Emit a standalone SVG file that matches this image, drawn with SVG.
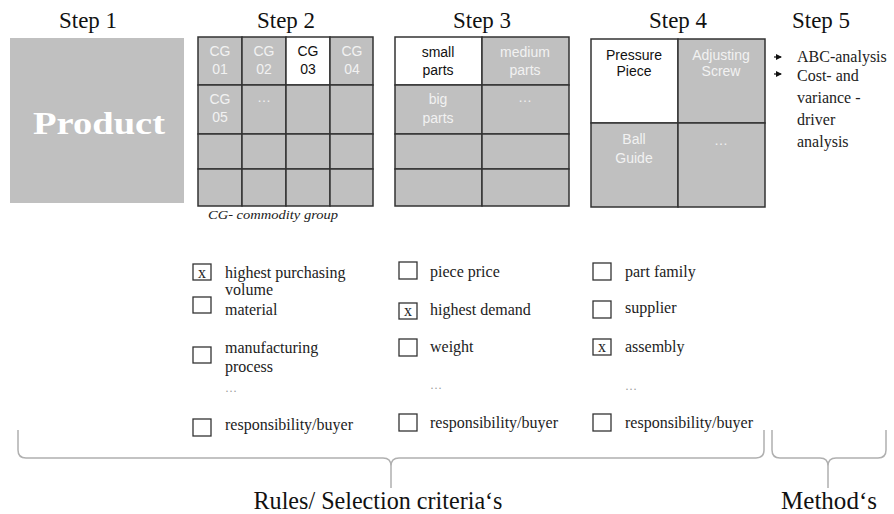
<svg xmlns="http://www.w3.org/2000/svg" width="894" height="514" viewBox="0 0 894 514">
<style>
.title{font-size:24px;fill:#111;text-anchor:middle}
.cell{fill:#c0c0c0;stroke:#333;stroke-width:1.5}
.wcell{fill:#fff;stroke:#333;stroke-width:1.5}
.ct{font-size:14px;fill:#f2f2f2;text-anchor:middle}
.ctd{font-size:14px;fill:#111;text-anchor:middle}
.lbl{font-size:16px;fill:#222}
.box{fill:#fff;stroke:#333;stroke-width:1.3}
.brace{fill:none;stroke:#b0b0b0;stroke-width:1.5}
.big{font-size:26px;fill:#111;text-anchor:middle}
.dots{font-size:12px;fill:#999}
</style>
<defs>
<marker id="ah" markerWidth="6" markerHeight="6" refX="5" refY="3" orient="auto" markerUnits="userSpaceOnUse">
<path d="M0,0 L6,3 L0,6 z" fill="#111"/>
</marker>
</defs>

<g id="step1" font-family="Liberation Serif, serif">
<text class="title" x="88" y="28" textLength="58" lengthAdjust="spacingAndGlyphs">Step 1</text>
<rect x="10" y="38" width="174" height="165" fill="#c0c0c0"/>
<text x="99" y="134" font-weight="bold" font-size="32" fill="#fff" text-anchor="middle" textLength="132" lengthAdjust="spacingAndGlyphs">Product</text>
</g>

<g id="step2" font-family="Liberation Sans, Arial, sans-serif">
<text class="title" x="286" y="28" font-family="Liberation Serif, serif" textLength="58" lengthAdjust="spacingAndGlyphs">Step 2</text>
<rect class="cell" x="198" y="37" width="44" height="48"/>
<rect class="cell" x="242" y="37" width="44" height="48"/>
<rect class="wcell" x="286" y="37" width="44" height="48"/>
<rect class="cell" x="330" y="37" width="43" height="48"/>
<rect class="cell" x="198" y="85" width="44" height="49"/>
<rect class="cell" x="242" y="85" width="44" height="49"/>
<rect class="cell" x="286" y="85" width="44" height="49"/>
<rect class="cell" x="330" y="85" width="43" height="49"/>
<rect class="cell" x="198" y="134" width="44" height="35"/>
<rect class="cell" x="242" y="134" width="44" height="35"/>
<rect class="cell" x="286" y="134" width="44" height="35"/>
<rect class="cell" x="330" y="134" width="43" height="35"/>
<rect class="cell" x="198" y="169" width="44" height="37"/>
<rect class="cell" x="242" y="169" width="44" height="37"/>
<rect class="cell" x="286" y="169" width="44" height="37"/>
<rect class="cell" x="330" y="169" width="43" height="37"/>
<text class="ct" x="220" y="56">CG</text><text class="ct" x="220" y="74">01</text>
<text class="ct" x="264" y="56">CG</text><text class="ct" x="264" y="74">02</text>
<text class="ctd" x="308" y="56">CG</text><text class="ctd" x="308" y="74">03</text>
<text class="ct" x="352" y="56">CG</text><text class="ct" x="352" y="74">04</text>
<text class="ct" x="220" y="104">CG</text><text class="ct" x="220" y="122">05</text>
<text class="ct" x="264" y="102">…</text>
<text x="208" y="219" font-family="Liberation Serif, serif" font-style="italic" font-size="12" fill="#222" textLength="130" lengthAdjust="spacingAndGlyphs">CG- commodity group</text>
</g>

<g id="step3" font-family="Liberation Sans, Arial, sans-serif">
<text class="title" x="482" y="28" font-family="Liberation Serif, serif" textLength="58" lengthAdjust="spacingAndGlyphs">Step 3</text>
<rect class="wcell" x="395" y="37" width="87" height="48"/>
<rect class="cell" x="482" y="37" width="87" height="48"/>
<rect class="cell" x="395" y="85" width="87" height="49"/>
<rect class="cell" x="482" y="85" width="87" height="49"/>
<rect class="cell" x="395" y="134" width="87" height="35"/>
<rect class="cell" x="482" y="134" width="87" height="35"/>
<rect class="cell" x="395" y="169" width="87" height="37"/>
<rect class="cell" x="482" y="169" width="87" height="37"/>
<text class="ctd" x="438" y="57">small</text><text class="ctd" x="438" y="75" font-size="12">parts</text>
<text class="ct" x="525" y="57" font-size="15">medium</text><text class="ct" x="525" y="75" font-size="12">parts</text>
<text class="ct" x="438" y="104" font-size="15">big</text><text class="ct" x="438" y="123" font-size="15">parts</text>
<text class="ct" x="525" y="102">…</text>
</g>

<g id="step4" font-family="Liberation Sans, Arial, sans-serif">
<text class="title" x="678" y="28" font-family="Liberation Serif, serif" textLength="58" lengthAdjust="spacingAndGlyphs">Step 4</text>
<rect class="wcell" x="591" y="39" width="87" height="84"/>
<rect class="cell" x="678" y="39" width="87" height="84"/>
<rect class="cell" x="591" y="123" width="87" height="84"/>
<rect class="cell" x="678" y="123" width="87" height="84"/>
<text class="ctd" x="634" y="60" font-size="15">Pressure</text><text class="ctd" x="634" y="76" font-size="13">Piece</text>
<text class="ct" x="721" y="60" font-size="15">Adjusting</text><text class="ct" x="721" y="76" font-size="13">Screw</text>
<text class="ct" x="634" y="144" font-size="15">Ball</text><text class="ct" x="634" y="163" font-size="15">Guide</text>
<text class="ct" x="721" y="145">…</text>
</g>

<g id="step5" font-family="Liberation Serif, serif">
<text class="title" x="821" y="28" textLength="58" lengthAdjust="spacingAndGlyphs">Step 5</text>
<line x1="774" y1="57" x2="781" y2="57" stroke="#111" stroke-width="1.2" marker-end="url(#ah)"/>
<line x1="774" y1="74" x2="781" y2="74" stroke="#111" stroke-width="1.2" marker-end="url(#ah)"/>
<text class="lbl" x="797" y="62">ABC-analysis</text>
<text class="lbl" x="797" y="81">Cost- and</text>
<text class="lbl" x="797" y="103">variance -</text>
<text class="lbl" x="797" y="125">driver</text>
<text class="lbl" x="797" y="147">analysis</text>
</g>

<g id="criteria2" font-family="Liberation Serif, serif">
<rect class="box" x="193" y="264" width="18" height="16"/><text class="lbl" x="198" y="278" font-size="14">x</text>
<text class="lbl" x="225" y="278">highest purchasing</text>
<text class="lbl" x="225" y="295" font-size="13">volume</text>
<rect class="box" x="193" y="297" width="18" height="16"/>
<text class="lbl" x="225" y="315">material</text>
<rect class="box" x="193" y="347" width="18" height="16"/>
<text class="lbl" x="225" y="353">manufacturing</text>
<text class="lbl" x="225" y="372" font-size="14">process</text>
<text class="dots" x="225" y="392">…</text>
<rect class="box" x="193" y="419" width="18" height="17"/>
<text class="lbl" x="225" y="430">responsibility/buyer</text>
</g>

<g id="criteria3" font-family="Liberation Serif, serif">
<rect class="box" x="399" y="262" width="18" height="17"/>
<text class="lbl" x="430" y="277">piece price</text>
<rect class="box" x="399" y="303" width="18" height="16"/><text class="lbl" x="404" y="316" font-size="14">x</text>
<text class="lbl" x="430" y="315">highest demand</text>
<rect class="box" x="399" y="339" width="18" height="17"/>
<text class="lbl" x="430" y="352">weight</text>
<text class="dots" x="430" y="389">…</text>
<rect class="box" x="399" y="414" width="18" height="17"/>
<text class="lbl" x="430" y="428">responsibility/buyer</text>
</g>

<g id="criteria4" font-family="Liberation Serif, serif">
<rect class="box" x="593" y="263" width="18" height="17"/>
<text class="lbl" x="625" y="277">part family</text>
<rect class="box" x="593" y="301" width="18" height="17"/>
<text class="lbl" x="625" y="313">supplier</text>
<rect class="box" x="593" y="339" width="18" height="16"/><text class="lbl" x="598" y="352" font-size="14">x</text>
<text class="lbl" x="625" y="352">assembly</text>
<text class="dots" x="625" y="390">…</text>
<rect class="box" x="593" y="414" width="18" height="17"/>
<text class="lbl" x="625" y="428">responsibility/buyer</text>
</g>

<g id="connectors">
<path class="brace" d="M18,430 L18,450 Q18,458 26,458 L383,458 Q391,458 391,466 L391,488 M391,466 Q391,458 399,458 L756,458 Q764,458 764,450 L764,430"/>
<path class="brace" d="M772,430 L772,450 Q772,458 780,458 L820,458 Q828,458 828,466 L828,488 M828,466 Q828,458 836,458 L878,458 Q886,458 886,450 L886,430"/>
</g>

<g id="labels" font-family="Liberation Serif, serif">
<text class="big" x="378" y="509" textLength="249" lengthAdjust="spacingAndGlyphs">Rules/ Selection criteria‘s</text>
<text class="big" x="829" y="509" textLength="96" lengthAdjust="spacingAndGlyphs">Method‘s</text>
</g>
</svg>
